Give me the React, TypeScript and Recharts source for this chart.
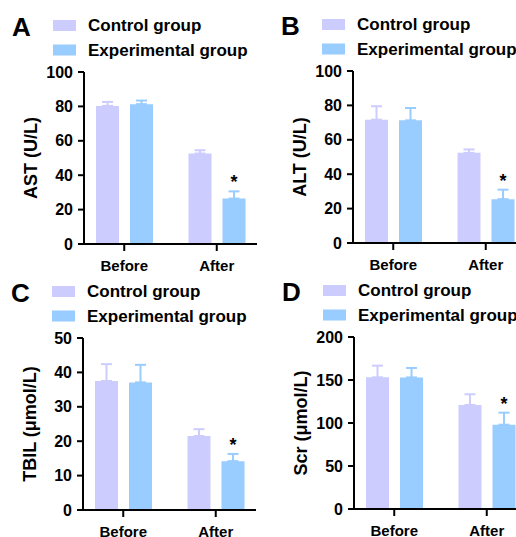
import React from 'react'
import { BarChart, Bar, XAxis, YAxis, ErrorBar, LabelList } from 'recharts'

// categories / series
const groups = ['Before', 'After']
const seriesNames = ['Control group', 'Experimental group']
const sigMarks = ['', '*']

// A: AST (U/L)
const astControl = [80.3, 52.6]
const astControlSd = [2.3, 1.9]
const astExp = [81.3, 26.4]
const astExpSd = [2.1, 4.2]
const astTicks = [0, 20, 40, 60, 80, 100]

// B: ALT (U/L)
const altControl = [71.7, 52.4]
const altControlSd = [7.8, 2.0]
const altExp = [71.3, 25.5]
const altExpSd = [7.2, 5.5]
const altTicks = [0, 20, 40, 60, 80, 100]

// C: TBIL (umol/L)
const tbilControl = [37.5, 21.5]
const tbilControlSd = [4.9, 2.0]
const tbilExp = [37.1, 14.2]
const tbilExpSd = [5.1, 2.1]
const tbilTicks = [0, 10, 20, 30, 40, 50]

// D: Scr (umol/L)
const scrControl = [153.1, 121.0]
const scrControlSd = [13.6, 12.4]
const scrExp = [153.0, 98.0]
const scrExpSd = [11.0, 14.0]
const scrTicks = [0, 50, 100, 150, 200]

const CONTROL = '#CCCCFF'
const EXPERIMENTAL = '#99CCFF'
const FONT = '"Liberation Sans", Arial, Helvetica, sans-serif'

interface PanelProps {
  letter: string
  yLabel: string
  ticks: number[]
  control: number[]
  controlSd: number[]
  exp: number[]
  expSd: number[]
  left: number
  top: number
}

function Panel({ letter, yLabel, ticks, control, controlSd, exp, expSd, left, top }: PanelProps) {
  const rows = groups.map((g, i) => ({
    group: g,
    control: control[i],
    controlErr: [0, controlSd[i]],
    exp: exp[i],
    expErr: [0, expSd[i]],
    sig: sigMarks[i],
  }))

  // asterisk sits just above the experimental error bar
  const renderStar = (props: any) => {
    const vb = props.viewBox ?? props
    const row = rows[props.index]
    if (!row || !row.sig) return null
    const pxPerUnit = vb.height / row.exp
    const errTop = vb.y - row.expErr[1] * pxPerUnit
    return (
      <text
        x={vb.x + vb.width / 2}
        y={errTop - 3}
        textAnchor="middle"
        fontSize={18}
        fontWeight="bold"
        fontFamily={FONT}
        fill="#000"
      >
        {row.sig}
      </text>
    )
  }

  const axisStyle = { stroke: '#000', strokeWidth: 2 }

  return (
    <div style={{ position: 'absolute', left, top, width: 258, height: 290 }}>
      <BarChart
        width={258}
        height={290}
        data={rows}
        margin={{ top: 72, right: 1, bottom: 0, left: 0 }}
        barSize={23}
        barGap={11}
      >
        <XAxis
          dataKey="group"
          height={46}
          padding={{ left: -6, right: -6 }}
          axisLine={axisStyle}
          tickLine={axisStyle}
          tickSize={7}
          tickMargin={9}
          tick={{ fontSize: 15, fontWeight: 'bold', fill: '#000', fontFamily: FONT }}
        />
        <YAxis
          width={84}
          domain={[ticks[0], ticks[ticks.length - 1]]}
          ticks={ticks}
          interval={0}
          axisLine={axisStyle}
          tickLine={axisStyle}
          tickSize={6}
          tickMargin={5}
          tick={{ fontSize: 16, fontWeight: 'bold', fill: '#000', fontFamily: FONT }}
        />
        <Bar dataKey="control" fill={CONTROL} isAnimationActive={false}>
          <ErrorBar dataKey="controlErr" direction="y" width={5.5} stroke={CONTROL} strokeWidth={2} />
        </Bar>
        <Bar dataKey="exp" fill={EXPERIMENTAL} isAnimationActive={false}>
          <ErrorBar dataKey="expErr" direction="y" width={5.5} stroke={EXPERIMENTAL} strokeWidth={2} />
          <LabelList dataKey="sig" content={renderStar} />
        </Bar>
      </BarChart>
      <svg
        width={258}
        height={270}
        style={{ position: 'absolute', left: 0, top: 0, pointerEvents: 'none', overflow: 'visible' }}
      >
        <text x={12} y={36} fontSize={26} fontWeight="bold" fontFamily={FONT} fill="#000">
          {letter}
        </text>
        {seriesNames.map((name, i) => (
          <g key={name}>
            <rect x={53} y={20 + i * 24.5} width={23} height={11} fill={i === 0 ? CONTROL : EXPERIMENTAL} />
            <text x={88} y={31 + i * 24.5} fontSize={17} fontWeight="bold" fontFamily={FONT} fill="#000">
              {name}
            </text>
          </g>
        ))}
        <text
          transform="translate(31, 158) rotate(-90)"
          textAnchor="middle"
          dominantBaseline="central"
          fontSize={18}
          fontWeight="bold"
          fontFamily={FONT}
          fill="#000"
        >
          {yLabel}
        </text>
      </svg>
    </div>
  )
}

export default function App() {
  return (
    <div
      style={{
        position: 'absolute',
        left: 0,
        top: 0,
        width: 516,
        height: 537,
        overflow: 'hidden',
        background: '#fff',
      }}
    >
      <Panel letter="A" yLabel="AST (U/L)" ticks={astTicks} control={astControl} controlSd={astControlSd} exp={astExp} expSd={astExpSd} left={0} top={0} />
      <Panel letter="B" yLabel="ALT (U/L)" ticks={altTicks} control={altControl} controlSd={altControlSd} exp={altExp} expSd={altExpSd} left={269} top={-1} />
      <Panel letter="C" yLabel="TBIL (μmol/L)" ticks={tbilTicks} control={tbilControl} controlSd={tbilControlSd} exp={tbilExp} expSd={tbilExpSd} left={-1} top={266} />
      <Panel letter="D" yLabel="Scr (μmol/L)" ticks={scrTicks} control={scrControl} controlSd={scrControlSd} exp={scrExp} expSd={scrExpSd} left={270} top={265} />
    </div>
  )
}
